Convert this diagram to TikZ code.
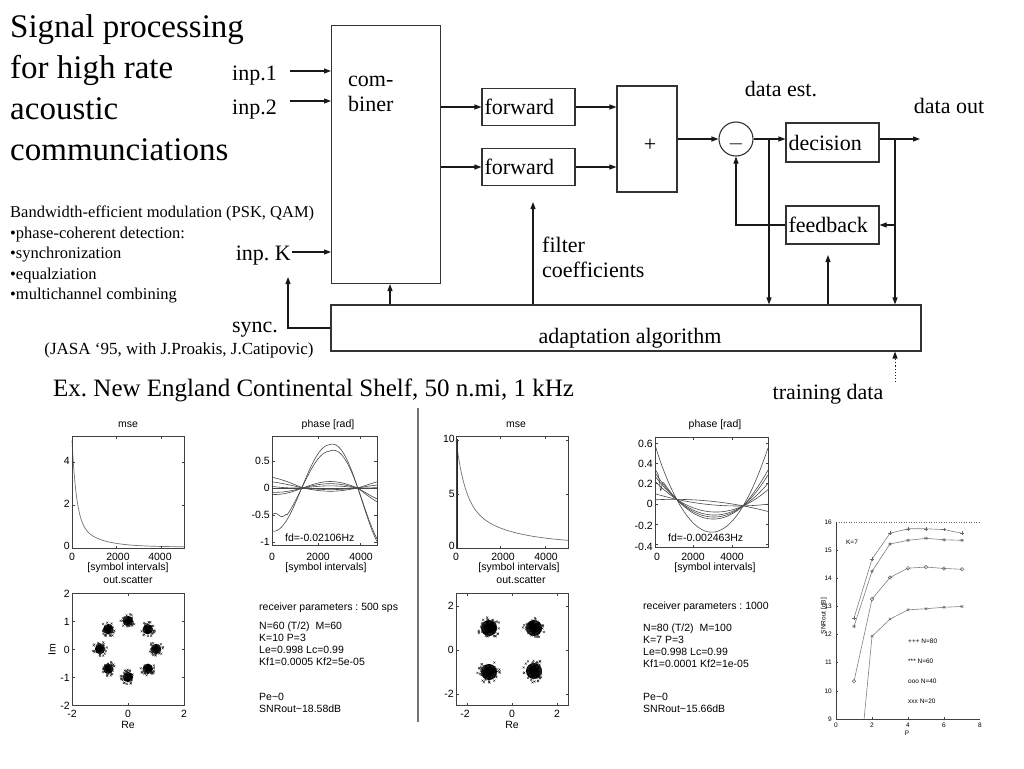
\documentclass[tikz,border=0pt]{standalone}
\usepackage{fontspec}
\setmainfont{Liberation Serif}
\newfontfamily\pfont{Liberation Sans}
\usetikzlibrary{arrows.meta,calc,plotmarks}
\frenchspacing
\newcommand\dgf{\fontsize{22}{25}\selectfont}
\newcommand\plf{\pfont\fontsize{10.5}{12}\selectfont}
\newcommand\snf{\pfont\fontsize{6.5}{8}\selectfont}
\newcommand\tld{{\char"007E}}
\newcommand\myblob[4]{%
  \fill[black] (#1,#2) circle[radius={0.8*#3pt}];
  \foreach \k in {1,...,#4}{%
    \pgfmathsetmacro\ang{360*rnd}%
    \pgfmathsetmacro\rr{#3*(0.55+0.6*rnd)}%
    \draw[black!85,line width=0.35pt] (#1,#2) ++(\ang:\rr) +(-1,-1) -- +(1,1) +(-1,1) -- +(1,-1);
  }%
}
\begin{document}
\begin{tikzpicture}[x=1pt,y=-1pt,
  blk/.style={draw=black!80, line width=1.1pt, inner sep=0pt},
  arr/.style={line width=1.1pt, draw=black!90, -{Triangle[length=7pt,width=5pt]}},
  dtxt/.style={font=\dgf, inner sep=0pt},
  ptxt/.style={font=\plf, inner sep=0pt},
  stxt/.style={font=\snf, inner sep=0pt},
  frame/.style={draw=black!75, line width=0.8pt},
  curve/.style={draw=black!72, line width=0.6pt},
  mcurve/.style={draw=black!55, line width=0.7pt},
  snr/.style={draw=black!50, line width=0.6pt, mark size=1.8pt, mark options={black!60, line width=0.5pt, solid}},
]
\pgfmathsetseed{7}
\useasboundingbox (0,0) rectangle (1024,768);
\fill[white] (0,0) rectangle (1024,768);

% ---------------- texts on the left ----------------
\node[anchor=north west, inner sep=0pt, align=left, font=\fontsize{33}{41}\selectfont] (title) at (10,14.5)
  {Signal processing\\for high rate\\acoustic\\communciations};
\node[anchor=north west, inner sep=0pt, align=left, font=\fontsize{16.5}{20.5}\selectfont] (bul) at (10,206)
  {Bandwidth-efficient modulation (PSK, QAM)\\•phase-coherent detection:\\•synchronization\\•equalziation\\•multichannel combining};
\node[inner sep=0pt, font=\fontsize{17}{20}\selectfont] (jasa) at (179,350) {(JASA ‘95, with J.Proakis, J.Catipovic)};
\node[anchor=base west, inner sep=0pt, font=\fontsize{25}{30}\selectfont] (ex) at (53,396) {Ex. New England Continental Shelf, 50 n.mi, 1 kHz};

% ---------------- block diagram ----------------
\node[blk, minimum width=109pt, minimum height=258pt, anchor=north west] (comb) at (331,25) {};
\node[dtxt, anchor=west, align=left] (combt) at (348,94) {com-\\biner};
\node[blk, minimum height=37pt, text width=88pt, inner xsep=2.5pt, align=left, font=\dgf] (fw1) at (528.5,107) {forward};
\node[blk, minimum height=37pt, text width=88pt, inner xsep=2.5pt, align=left, font=\dgf] (fw2) at (528.5,167) {forward};
\node[blk, minimum width=60pt, minimum height=106pt] (plus) at (647,139) {};
\node[dtxt, anchor=base] (plust) at (650,151.5) {+};
\node[blk, circle, minimum size=34pt] (circ) at (736,139) {};
\node[dtxt, anchor=base] (circt) at (736,149.5) {$-$};
\node[blk, minimum height=39pt, text width=88pt, inner xsep=2.5pt, align=left, font=\dgf] (dec) at (832.5,142.5) {decision};
\node[blk, minimum height=38pt, text width=88pt, inner xsep=2.5pt, align=left, font=\dgf] (fb) at (832.5,225) {feedback};
\node[blk, minimum width=590pt, minimum height=46pt] (adapt) at (626,328) {};
\node[dtxt] (adt) at (630,338) {adaptation algorithm};

\node[dtxt, anchor=east] (in1) at (277,76) {inp.1};
\node[dtxt, anchor=east] (in2) at (277,110) {inp.2};
\node[dtxt, anchor=east] (inK) at (291,256) {inp. K};
\node[dtxt] (sync) at (255,330) {sync.};
\node[dtxt] (dest) at (781,89) {data est.};
\node[dtxt] (dout) at (949,106) {data out};
\node[dtxt] (train) at (828,394) {training data};
\node[dtxt, anchor=west, align=left] (filt) at (542,257) {filter\\coefficients};

\coordinate (a1) at (290,71);
\coordinate (a2) at (290,101);
\coordinate (aK) at (292,252);
\coordinate (sy) at (288,277);
\coordinate (cu) at (390,0);
\coordinate (outc) at (920,139);
\coordinate (j1) at (769,139);
\coordinate (j2) at (895,139);
\coordinate (fbu) at (828,255);
\coordinate (fcu) at (533,202);
\coordinate (td) at (895,382);

\draw[arr] (a1) -- (a1 -| comb.west);
\draw[arr] (a2) -- (a2 -| comb.west);
\draw[arr] (aK) -- (aK -| comb.west);
\draw[arr] (adapt.west) -| (sy);
\draw[arr] (cu |- adapt.north) -- (cu |- comb.south);
\draw[arr] (comb.east |- fw1.west) -- (fw1.west);
\draw[arr] (comb.east |- fw2.west) -- (fw2.west);
\draw[arr] (fw1.east) -- (fw1.east -| plus.west);
\draw[arr] (fw2.east) -- (fw2.east -| plus.west);
\draw[arr] (plus.east |- circ.west) -- (circ.west);
\draw[arr] (circ.east) -- (circ.east -| dec.west);
\draw[arr] (dec.east |- outc) -- (outc);
\draw[arr] (j1) -- (j1 |- adapt.north);
\draw[arr] (j2) -- (j2 |- adapt.north);
\draw[arr] (j2 |- fb.east) -- (fb.east);
\draw[arr] (fb.west) -| (circ.south);
\draw[arr] (fbu |- adapt.north) -- (fbu);
\draw[arr] (fcu |- adapt.north) -- (fcu);
\draw[arr, dotted, line width=0.9pt] (td) -- (td |- adapt.south);

% ---------------- separator ----------------
\draw[line width=1.6pt, black!55] (418,408) -- (418,722);

% ---------------- plot 1: mse left ----------------
\node[ptxt] (p1t) at (128,425) {mse};
\begin{scope}[shift={(72,548)},x=22.4pt,y=21.5pt]
  \draw[mcurve] plot[domain=0:5,samples=160] (\x,{0.05+3.75*exp(-\x/0.2)+1.2*exp(-\x)});
  \draw[frame] (0,0) rectangle (5,5.2);
  \foreach \v in {2,4}{\draw[frame] (0,\v)--++(2.5pt,0) (5,\v)--++(-2.5pt,0) (\v,0)--++(0,2.5pt) (\v,5.2)--++(0,-2.5pt);}
\end{scope}
\foreach \v/\p [count=\i] in {4/461,2/504,0/546}{\node[ptxt,anchor=east] (p1y\i) at (70,\p) {\v};}
\foreach \v/\p [count=\i] in {0/72,2000/118,4000/160}{\node[ptxt] (p1x\i) at (\p,557) {\v};}
\node[ptxt] (p1l) at (128,568) {[symbol intervals]};

% ---------------- plot 2: phase left ----------------
\node[ptxt] (p2t) at (328,425) {phase [rad]};
\begin{scope}[shift={(272,488)},x=22pt,y=54pt]
  \begin{scope}
  \clip (0,-1.07) rectangle (4.77,0.96);
  \draw[curve] (0,0) -- (4.77,0);
  \draw[curve] plot[domain=0:4.77,samples=120] (\x,{(0.8+0.15*max(0,\x-2.6))*sin(180*(\x-1.35)/2.55)});
  \draw[curve] plot[domain=0:4.77,samples=120] (\x,{\x<0.65 ? -0.5+0.03*sin(\x*600) : (0.68+0.18*max(0,\x-2.6))*sin(180*(\x-1.35)/2.55)});
  \draw[curve] plot[domain=0:4.77,samples=100] (\x,{0.12*sin(180*(\x-1.4)/2.5)-0.17*max(0,\x-3.9)});
  \draw[curve] plot[domain=0:4.77,samples=100] (\x,{0.08*sin(180*(\x-1.4)/2.5)-0.15*max(0,\x-3.9)});
  \draw[curve] plot[domain=0:4.77,samples=100] (\x,{-0.06*sin(180*(\x-1.4)/2.5)+0.1*max(0,1.4-\x)});
  \draw[curve] plot[domain=0:4.77,samples=100] (\x,{-0.03*sin(180*(\x-1.4)/2.5)+0.06*max(0,1.4-\x)+0.1*max(0,\x-3.9)});
  \draw[curve] plot[domain=0:4.77,samples=100] (\x,{0.04*sin(180*(\x-1.4)/2.5)+0.05*max(0,1.4-\x)+0.05*max(0,\x-3.9)});
  \end{scope}
  \draw[frame] (0,-1.07) rectangle (4.77,0.96);
  \foreach \v in {-1,-0.5,0,0.5}{\draw[frame] (0,\v)--++(2.5pt,0) (4.77,\v)--++(-2.5pt,0);}
  \foreach \v in {2.09,4.0}{\draw[frame] (\v,-1.07)--++(0,2.5pt) (\v,0.96)--++(0,-2.5pt);}
\end{scope}
\foreach \v/\p [count=\i] in {0.5/461,0/488,-0.5/515,-1/542}{\node[ptxt,anchor=east] (p2y\i) at (270,\p) {\v};}
\foreach \v/\p [count=\i] in {0/272,2000/318,4000/361}{\node[ptxt] (p2x\i) at (\p,557) {\v};}
\node[ptxt] (p2l) at (326,568) {[symbol intervals]};
\node[ptxt,anchor=west] (p2fd) at (285,538) {fd=-0.02106Hz};

% ---------------- plot 3: scatter left ----------------
\node[ptxt] (s1t) at (128,580) {out.scatter};
\foreach \a in {0,45,...,315}{%
  \pgfmathsetmacro\bx{128+28*cos(\a)}%
  \pgfmathsetmacro\by{649-28*sin(\a)}%
  \myblob{\bx}{\by}{6.5}{26}}
\draw[frame] (72,593) rectangle (184,705);
\foreach \p in {621,649,677}{\draw[frame] (72,\p)--++(2.5,0) (184,\p)--++(-2.5,0);}
\foreach \p in {128}{\draw[frame] (\p,705)--++(0,-2.5) (\p,593)--++(0,2.5);}
\foreach \v/\p [count=\i] in {2/594,1/621.5,0/650,-1/677.5,-2/705.5}{\node[ptxt,anchor=east] (s1y\i) at (70,\p) {\v};}
\foreach \v/\p [count=\i] in {-2/72,0/128,2/184}{\node[ptxt] (s1x\i) at (\p,714) {\v};}
\node[ptxt] (s1re) at (128,725) {Re};
\node[ptxt,rotate=90] (s1im) at (52,650) {Im};

% ---------------- plot 4: receiver parameters left ----------------
\node[ptxt, anchor=north west, align=left] (rp1) at (259,602.5)
  {receiver parameters : 500 sps\\[7pt]N=60 (T/2)\ \ M=60\\K=10 P=3\\Le=0.998 Lc=0.99\\Kf1=0.0005 Kf2=5e-05\\[23pt]Pe\tld 0\\SNRout\tld 18.58dB};

% ---------------- plot 5: mse right ----------------
\node[ptxt] (p5t) at (516,425) {mse};
\begin{scope}[shift={(456,548)},x=22.4pt,y=10.8pt]
  \draw[mcurve] plot[domain=0:5,samples=160] (\x,{0.4+5.8*exp(-\x/0.4)+3.8*exp(-\x/2.0)});
  \draw[line width=1.2pt, black!85] (0.04,0) -- (0.04,10.1);
  \draw[frame] (0,0) rectangle (5,10.37);
  \foreach \v in {5,10}{\draw[frame] (0,\v)--++(2.5pt,0) (5,\v)--++(-2.5pt,0);}
  \foreach \v in {2,4}{\draw[frame] (\v,0)--++(0,2.5pt) (\v,10.37)--++(0,-2.5pt);}
\end{scope}
\foreach \v/\p [count=\i] in {10/439,5/494,0/546}{\node[ptxt,anchor=east] (p5y\i) at (455,\p) {\v};}
\foreach \v/\p [count=\i] in {0/456,2000/503,4000/546}{\node[ptxt] (p5x\i) at (\p,557) {\v};}
\node[ptxt] (p5l) at (519,568) {[symbol intervals]};

% ---------------- plot 6: phase right ----------------
\node[ptxt] (p6t) at (715,425) {phase [rad]};
\begin{scope}[shift={(655,504)},x=22.6pt,y=101.5pt]
  \begin{scope}
  \clip (0,-0.43) rectangle (5,0.66);
  \draw[curve] plot[domain=0:5,samples=120] (\x,{0.29*(\x-0.96)*(\x-3.9)/2.16+0.046-0.022*(\x-0.96)+0.04*max(0,0.3-\x)});
  \draw[curve] plot[domain=0:5,samples=200] (\x,{0.16*(\x-0.96)*(\x-3.9)/2.16+0.046-0.022*(\x-0.96)-0.12*exp(-((\x-0.25)/0.06)^2)});
  \draw[curve] plot[domain=0:5,samples=120] (\x,{0.14*(\x-0.96)*(\x-3.9)/2.16+0.046-0.022*(\x-0.96)+0.08*max(0,\x-3.9)});
  \draw[curve] plot[domain=0:5,samples=120] (\x,{0.12*(\x-0.96)*(\x-3.9)/2.16+0.046-0.022*(\x-0.96)});
  \draw[curve] plot[domain=0:5,samples=120] (\x,{0.09*(\x-0.96)*(\x-3.9)/2.16+0.046-0.022*(\x-0.96)});
  \draw[curve] plot[domain=0:5,samples=120] (\x,{0.02*(\x-0.96)*(\x-3.9)/2.16+0.046-0.022*(\x-0.96)});
  \draw[curve] plot[domain=0:5,samples=120] (\x,{-0.015*(\x-0.96)*(\x-3.9)/2.16+0.046-0.022*(\x-0.96)});
  \end{scope}
  \draw[frame] (0,-0.43) rectangle (5,0.66);
  \foreach \v in {-0.4,-0.2,0,0.2,0.4,0.6}{\draw[frame] (0,\v)--++(2.5pt,0) (5,\v)--++(-2.5pt,0);}
  \foreach \v in {1.68,3.41}{\draw[frame] (\v,-0.43)--++(0,2.5pt) (\v,0.66)--++(0,-2.5pt);}
\end{scope}
\foreach \v/\p [count=\i] in {0.6/444,0.4/464,0.2/484,0/504,-0.2/526,-0.4/547}{\node[ptxt,anchor=east] (p6y\i) at (653,\p) {\v};}
\foreach \v/\p [count=\i] in {0/657,2000/693,4000/732}{\node[ptxt] (p6x\i) at (\p,557) {\v};}
\node[ptxt] (p6l) at (715,568) {[symbol intervals]};
\node[ptxt,anchor=west] (p6fd) at (668,538) {fd=-0.002463Hz};

% ---------------- plot 7: scatter right ----------------
\node[ptxt] (s2t) at (521,580) {out.scatter};
\myblob{489}{628}{10}{40}
\myblob{534}{628}{10}{40}
\myblob{489}{672}{10}{40}
\myblob{534}{671}{10}{40}
\draw[frame] (456,593) rectangle (568,705);
\foreach \p in {606,650,694}{\draw[frame] (456,\p)--++(2.5,0) (568,\p)--++(-2.5,0);}
\foreach \p in {467,512,557}{\draw[frame] (\p,705)--++(0,-2.5) (\p,593)--++(0,2.5);}
\foreach \v/\p [count=\i] in {2/606,0/650,-2/694}{\node[ptxt,anchor=east] (s2y\i) at (454,\p) {\v};}
\foreach \v/\p [count=\i] in {-2/465,0/512,2/557}{\node[ptxt] (s2x\i) at (\p,714) {\v};}
\node[ptxt] (s2re) at (512,725) {Re};

% ---------------- plot 8: receiver parameters right ----------------
\node[ptxt, anchor=north west, align=left] (rp2) at (643,601.5)
  {receiver parameters : 1000\\[10pt]N=80 (T/2)\ \ M=100\\K=7 P=3\\Le=0.998 Lc=0.99\\Kf1=0.0001 Kf2=1e-05\\[21pt]Pe\tld 0\\SNRout\tld 15.66dB};

% ---------------- plot 9: SNR vs P ----------------
\begin{scope}[shift={(836,719)},x=18pt,y=28.14pt]
  \draw[dotted, black!60, line width=0.5pt] (0,7) -- (8,7);
  \draw[frame, line width=0.6pt] (0,7) -- (0,0) -- (8,0);
  \foreach \v in {1,...,6}{\draw[frame,line width=0.5pt] (0,\v) -- ++(2pt,0);}
  \foreach \v in {2,4,6}{\draw[frame,line width=0.5pt] (\v,0) -- ++(0,2pt);}
  \draw[snr] plot[mark=+] coordinates {(1,3.59)(2,5.68)(3,6.6)(4,6.76)(5,6.76)(6,6.73)(7,6.6)};
  \draw[snr] plot[mark=asterisk] coordinates {(1,3.29)(2,5.25)(3,6.22)(4,6.35)(5,6.42)(6,6.37)(7,6.35)};
  \draw[snr] plot[mark=o] coordinates {(1,1.34)(2,4.26)(3,5.03)(4,5.36)(5,5.4)(6,5.35)(7,5.32)};
  \draw[snr] (1.56,0) -- (2,2.94);
  \draw[snr] plot[mark=x] coordinates {(2,2.94)(3,3.55)(4,3.88)(5,3.92)(6,3.97)(7,4.0)};
\end{scope}
\foreach \v [count=\i] in {9,...,16}{\node[stxt,anchor=east] (sy\i) at (832,{719-28.14*(\v-9)}) {\v};}
\foreach \v [count=\i] in {0,2,4,6,8}{\node[stxt] (sx\i) at ({836+18*\v},725) {\v};}
\node[stxt] (sxl) at (907,733) {P};
\node[stxt,rotate=90] (syl) at (824,616) {SNRout [dB]};
\node[stxt] (sk) at (852,542) {K=7};
\node[stxt,anchor=west] (lg1) at (908,641) {+++ N=80};
\node[stxt,anchor=west] (lg2) at (908,661) {*** N=60};
\node[stxt,anchor=west] (lg3) at (908,681) {ooo N=40};
\node[stxt,anchor=west] (lg4) at (908,701) {xxx N=20};
\end{tikzpicture}
\end{document}
